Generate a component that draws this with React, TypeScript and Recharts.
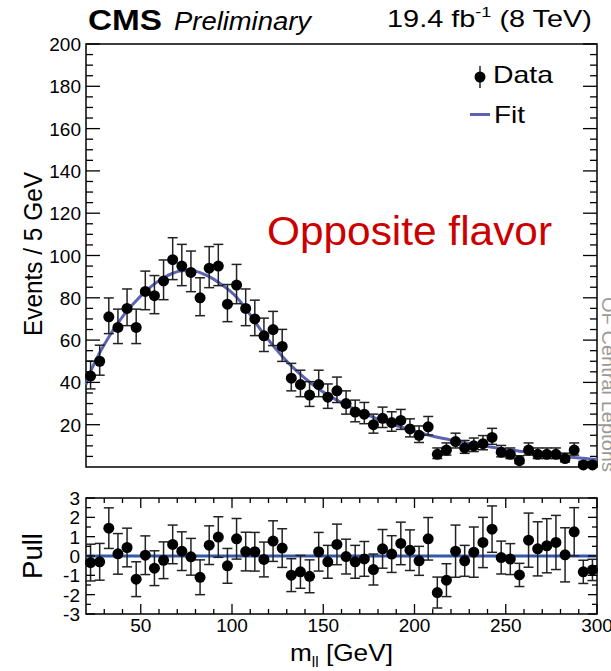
import React from "react";
import {
  ComposedChart,
  Scatter,
  Line,
  XAxis,
  YAxis,
  ErrorBar,
  ReferenceArea,
  ReferenceLine,
} from "recharts";

// bin centres (5 GeV bins)
const massBins = [
  22.5, 27.5, 32.5, 37.5, 42.5, 47.5, 52.5, 57.5, 62.5, 67.5, 72.5, 77.5, 82.5,
  87.5, 92.5, 97.5, 102.5, 107.5, 112.5, 117.5, 122.5, 127.5, 132.5, 137.5,
  142.5, 147.5, 152.5, 157.5, 162.5, 167.5, 172.5, 177.5, 182.5, 187.5, 192.5,
  197.5, 202.5, 207.5, 212.5, 217.5, 222.5, 227.5, 232.5, 237.5, 242.5, 247.5,
  252.5, 257.5, 262.5, 267.5, 272.5, 277.5, 282.5, 287.5, 292.5, 297.5,
];

const events = [
  43, 50, 71, 66, 75, 66, 83, 81, 88, 98, 95, 92, 80, 94, 95, 77, 86, 75, 70,
  62, 65, 57, 42, 39, 34, 39, 33, 36, 30, 26, 25, 20, 23, 21, 22, 18, 15, 19, 6,
  8, 12, 9, 10, 11, 14, 7, 6, 3, 8, 6, 6, 6, 4, 8, 1, 1,
];

const pulls = [
  -0.34, -0.3, 1.44, 0.11, 0.44, -1.2, 0.04, -0.63, -0.22, 0.6, 0.25, -0.04,
  -1.1, 0.56, 0.98, -0.51, 0.89, 0.23, 0.22, -0.18, 0.77, 0.41, -0.99, -0.82,
  -1.05, 0.22, -0.3, 0.6, -0.03, -0.3, -0.15, -0.7, 0.37, 0.1, 0.65, 0.3, -0.25,
  0.89, -1.89, -1.25, 0.25, -0.25, 0.2, 0.7, 1.39, -0.08, -0.16, -0.98, 0.82,
  0.37, 0.53, 0.7, 0.06, 1.25, -0.82, -0.72,
];

const pullErrors = [
  0.95, 0.95, 1.05, 1.05, 1.0, 0.9, 1.0, 0.9, 0.95, 1.0, 1.0, 0.95, 0.9, 1.0,
  1.05, 0.9, 1.05, 1.0, 1.0, 0.9, 1.05, 1.0, 0.85, 0.85, 0.85, 1.0, 0.85, 1.05,
  0.9, 0.85, 0.9, 0.8, 1.0, 0.95, 1.1, 1.05, 0.75, 1.1, 0.8, 0.85, 1.35, 0.8,
  1.3, 1.3, 1.2, 0.85, 0.8, 0.6, 1.4, 1.4, 1.4, 1.4, 1.4, 1.25, 0.6, 0.55,
];

const fitMass = [20, ...massBins, 300];
const fitValues = [
  39, 45, 54, 61.5, 68, 73.8, 78.6, 82.9, 86.6, 89.5, 91.6, 92.8, 92.9, 91.9,
  90, 87.4, 84.2, 80.3, 75, 68.8, 62.8, 57.4, 52.4, 47.8, 43.8, 40.2, 36.9,
  34.1, 31.6, 29.3, 27.2, 25.3, 23.5, 21.8, 20.3, 18.9, 17.6, 16.3, 15.1, 14.1,
  13.2, 12.3, 11.5, 10.7, 10.0, 9.3, 8.7, 8.1, 7.5, 7.0, 6.5, 6.0, 5.5, 5.0,
  4.5, 4.1, 3.7, 3.5,
];

const xMajor = [50, 100, 150, 200, 250, 300];
const yMajor = [20, 40, 60, 80, 100, 120, 140, 160, 180, 200];
const pullMajor = [-3, -2, -1, 0, 1, 2, 3];

// minor ticks between the labelled ones
const steps = (from: number, to: number, step: number) => {
  const out: number[] = [];
  for (let v = from; v <= to + 1e-9; v += step) out.push(Math.round(v * 100) / 100);
  return out;
};
const xTicks = steps(30, 290, 10);
const yTicks = steps(5, 200, 5);
const pullTicks = steps(-2.5, 2.5, 0.5);

const dataRows = massBins.map((m, i) => {
  const s = Math.sqrt(events[i] + 0.25);
  return { m, n: events[i], err: [s - 0.5, s + 0.5] };
});
const fitRows = fitMass.map((m, i) => ({ m, fit: fitValues[i] }));
const pullRows = massBins.map((m, i) => ({ m, p: pulls[i], err: pullErrors[i] }));

const FONT = "'Liberation Sans', Arial, Helvetica, sans-serif";
const PL = 86;
const PR = 597;
const TOP_PT = 44;
const BOT_PT = 18;
const FIT_BLUE = "#5b63b2";

const Dot = (p: any) => <circle cx={p.cx} cy={p.cy} r={5.5} fill="#000" />;

function TopYTick({ x, y, payload }: any) {
  const v = payload.value;
  const major = yMajor.includes(v);
  const len = major ? 14 : 7;
  return (
    <g>
      <line x1={x} x2={x + len} y1={y} y2={y} stroke="#000" strokeWidth={1.3} />
      <line x1={PR - len} x2={PR} y1={y} y2={y} stroke="#000" strokeWidth={1.3} />
      {major && (
        <text x={x - 5} y={y + 7} textAnchor="end" fontSize={19} fontFamily={FONT} fill="#000">
          {v}
        </text>
      )}
    </g>
  );
}

function TopXTick({ x, y, payload }: any) {
  const len = xMajor.includes(payload.value) ? 14 : 7;
  return (
    <g>
      <line x1={x} x2={x} y1={y} y2={y - len} stroke="#000" strokeWidth={1.3} />
      <line x1={x} x2={x} y1={TOP_PT} y2={TOP_PT + len} stroke="#000" strokeWidth={1.3} />
    </g>
  );
}

function PullYTick({ x, y, payload }: any) {
  const v = payload.value;
  const major = pullMajor.includes(v);
  const len = major ? 9 : 5;
  return (
    <g>
      <line x1={x} x2={x + len} y1={y} y2={y} stroke="#000" strokeWidth={1.3} />
      <line x1={PR - len} x2={PR} y1={y} y2={y} stroke="#000" strokeWidth={1.3} />
      {major && (
        <text x={x - 6} y={y + 7} textAnchor="end" fontSize={19} fontFamily={FONT} fill="#000">
          {v}
        </text>
      )}
    </g>
  );
}

function PullXTick({ x, y, payload }: any) {
  const v = payload.value;
  const major = xMajor.includes(v);
  const len = major ? 10 : 5;
  return (
    <g>
      <line x1={x} x2={x} y1={y} y2={y - len} stroke="#000" strokeWidth={1.3} />
      <line x1={x} x2={x} y1={BOT_PT} y2={BOT_PT + len} stroke="#000" strokeWidth={1.3} />
      {major && (
        <text x={x} y={y + 18} textAnchor="middle" fontSize={19} fontFamily={FONT} fill="#000">
          {v}
        </text>
      )}
    </g>
  );
}

export default function App() {
  return (
    <div
      style={{
        position: "absolute",
        left: 0,
        top: 0,
        width: 611,
        height: 671,
        background: "#fff",
        overflow: "hidden",
        fontFamily: FONT,
      }}
    >
      <div style={{ position: "absolute", left: 0, top: 0 }}>
        <ComposedChart
          width={611}
          height={480}
          data={dataRows}
          margin={{ top: TOP_PT, right: 611 - PR, bottom: 13, left: 0 }}
        >
          <XAxis
            xAxisId={0}
            dataKey="m"
            type="number"
            domain={[20, 300]}
            ticks={xTicks}
            interval={0}
            axisLine={false}
            tickLine={false}
            tickSize={0}
            tickMargin={0}
            height={0}
            tick={<TopXTick />}
          />
          <YAxis
            yAxisId={0}
            type="number"
            domain={[0, 200]}
            ticks={yTicks}
            interval={0}
            axisLine={false}
            tickLine={false}
            tickSize={0}
            tickMargin={0}
            width={PL}
            tick={<TopYTick />}
          />
          <ReferenceArea x1={20} x2={300} y1={0} y2={200} fill="none" stroke="#000" strokeWidth={1.5} />
          <Line
            data={fitRows}
            dataKey="fit"
            type="monotone"
            stroke={FIT_BLUE}
            strokeWidth={3}
            dot={false}
            isAnimationActive={false}
          />
          <Scatter dataKey="n" shape={Dot} isAnimationActive={false}>
            <ErrorBar dataKey="err" direction="y" width={5} stroke="#222" strokeWidth={1.5} />
          </Scatter>
        </ComposedChart>
      </div>

      <div style={{ position: "absolute", left: 0, top: 480 }}>
        <ComposedChart
          width={611}
          height={191}
          data={pullRows}
          margin={{ top: BOT_PT, right: 611 - PR, bottom: 0, left: 0 }}
        >
          <XAxis
            dataKey="m"
            type="number"
            domain={[20, 300]}
            ticks={[...xTicks, 300]}
            interval={0}
            axisLine={false}
            tickLine={false}
            tickSize={0}
            tickMargin={0}
            height={57}
            tick={<PullXTick />}
          />
          <YAxis
            type="number"
            domain={[-3, 3]}
            ticks={[...pullTicks, -3, 3]}
            interval={0}
            axisLine={false}
            tickLine={false}
            tickSize={0}
            tickMargin={0}
            width={PL}
            tick={<PullYTick />}
          />
          <ReferenceArea x1={20} x2={300} y1={-3} y2={3} fill="none" stroke="#000" strokeWidth={1.5} />
          <ReferenceLine y={0} stroke="#3558a8" strokeWidth={3} />
          <Scatter dataKey="p" shape={Dot} isAnimationActive={false}>
            <ErrorBar dataKey="err" direction="y" width={5} stroke="#222" strokeWidth={1.5} />
          </Scatter>
        </ComposedChart>
      </div>

      <svg
        width={611}
        height={671}
        style={{ position: "absolute", left: 0, top: 0, pointerEvents: "none" }}
        fontFamily={FONT}
      >
        <text x={88} y={30} fontSize={29} fontWeight="bold" textLength={74} lengthAdjust="spacingAndGlyphs">
          CMS
        </text>
        <text x={174} y={30} fontSize={26} fontStyle="italic" textLength={137} lengthAdjust="spacingAndGlyphs">
          Preliminary
        </text>
        <text x={387} y={27} fontSize={24} textLength={205} lengthAdjust="spacingAndGlyphs">
          19.4 fb
          <tspan fontSize={15} dy={-10}>-1</tspan>
          <tspan dy={10}> (8 TeV)</tspan>
        </text>

        {/* legend */}
        <line x1={480} x2={480} y1={66} y2={88} stroke="#222" strokeWidth={1.5} />
        <circle cx={480} cy={77} r={5.5} fill="#000" />
        <text x={493} y={83} fontSize={24} textLength={60} lengthAdjust="spacingAndGlyphs">
          Data
        </text>
        <line x1={470} x2={490} y1={114.5} y2={114.5} stroke={FIT_BLUE} strokeWidth={3} />
        <text x={494} y={123} fontSize={24} textLength={31} lengthAdjust="spacingAndGlyphs">
          Fit
        </text>

        <text x={267} y={245} fontSize={40} fill="#cc0000" textLength={285} lengthAdjust="spacingAndGlyphs">
          Opposite flavor
        </text>

        <text
          transform="translate(602 297) rotate(90)"
          fontSize={18}
          fill="#9a9a9a"
          textLength={175}
          lengthAdjust="spacingAndGlyphs"
        >
          OF Central Leptons
        </text>

        <text
          transform="translate(42 254) rotate(-90)"
          textAnchor="middle"
          fontSize={25}
          textLength={164}
          lengthAdjust="spacingAndGlyphs"
        >
          Events / 5 GeV
        </text>
        <text
          transform="translate(42 556) rotate(-90)"
          textAnchor="middle"
          fontSize={27}
          textLength={46}
          lengthAdjust="spacingAndGlyphs"
        >
          Pull
        </text>

        <text x={290} y={661} fontSize={24} textLength={103} lengthAdjust="spacingAndGlyphs">
          m
          <tspan fontSize={14} dy={6}>ll</tspan>
          <tspan dy={-6}> [GeV]</tspan>
        </text>
      </svg>
    </div>
  );
}
